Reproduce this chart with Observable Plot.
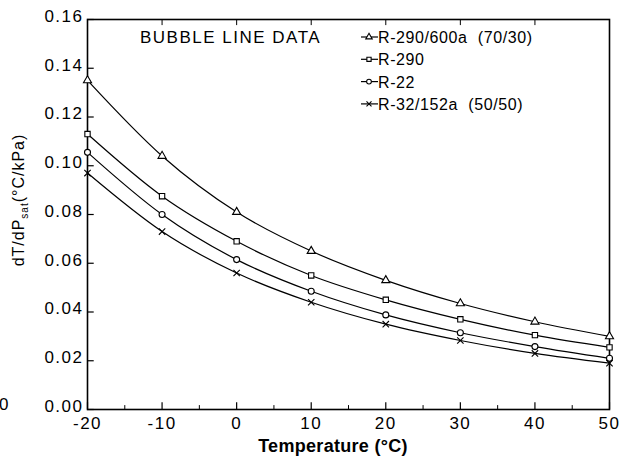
<!DOCTYPE html>
<html><head><meta charset="utf-8">
<script src="https://cdn.jsdelivr.net/npm/d3@7"></script>
<script src="https://cdn.jsdelivr.net/npm/@observablehq/plot@0.6"></script>
<style>
body{margin:0;background:#fff}
#chart{position:relative;width:629px;height:458px;overflow:hidden}
</style>
</head><body><div id="chart"></div>
<script>
// ---- data ----
const temps = [-20, -10, 0, 10, 20, 30, 40, 50];
const seriesNames = ["R-290/600a  (70/30)", "R-290", "R-22", "R-32/152a  (50/50)"];
const seriesSymbols = ["triangle", "square", "circle", "times"];
const r290_600a = [0.135, 0.104, 0.081, 0.065, 0.053, 0.0435, 0.036, 0.030];
const r290      = [0.113, 0.0875, 0.069, 0.055, 0.045, 0.037, 0.0305, 0.0255];
const r22       = [0.1055, 0.080, 0.0615, 0.0485, 0.0388, 0.0315, 0.0258, 0.021];
const r32_152a  = [0.097, 0.073, 0.056, 0.044, 0.035, 0.0283, 0.023, 0.019];
const xTicks = [-20, -10, 0, 10, 20, 30, 40, 50];
const xMinorTicks = [-15, -5, 5, 15, 25, 35, 45];
const yTicks = [0, 0.02, 0.04, 0.06, 0.08, 0.10, 0.12, 0.14, 0.16];
const titleText = "BUBBLE LINE DATA";
const xLabel = "Temperature (°C)";

const seriesValues = [r290_600a, r290, r22, r32_152a];
const data = [];
seriesNames.forEach((s, i) => temps.forEach((t, j) => data.push({series: s, t, v: seriesValues[i][j]})));

const font = "'Liberation Sans', Arial, Helvetica, sans-serif";

const plot = Plot.plot({
  width: 629, height: 458,
  marginLeft: 87, marginRight: 20, marginTop: 19, marginBottom: 49,
  x: {domain: [-20, 50]},
  y: {domain: [0, 0.16]},
  symbol: {domain: seriesNames, range: seriesSymbols},
  style: {fontFamily: font, fontSize: "17px", color: "#000", background: "#fff", letterSpacing: "1.5px"},
  marks: [
    Plot.axisX(xTicks, {tickSize: 0, tickPadding: 7, label: null, tickFormat: d => String(d)}),
    Plot.axisY(yTicks, {tickSize: 0, tickPadding: 4, dy: -3, label: null, tickFormat: d3.format(".2f")}),
    Plot.ruleX(xTicks, {y1: 0, y2: 0.0028, stroke: "black", strokeWidth: 1.2}),
    Plot.ruleX(xMinorTicks, {y1: 0, y2: 0.0016, stroke: "black", strokeWidth: 1}),
    Plot.ruleX(xTicks, {y1: 0.16, y2: 0.1575, stroke: "black", strokeWidth: 1}),
    Plot.ruleY(yTicks, {x1: -20, x2: -19.1, stroke: "black", strokeWidth: 1.2}),
    Plot.frame({stroke: "black", strokeWidth: 1.6}),
    Plot.line(data, {x: "t", y: "v", z: "series", curve: "monotone-x", stroke: "black", strokeWidth: 1.2}),
    Plot.dot(data, {x: "t", y: "v", symbol: "series", r: 3, stroke: "black", fill: "white", strokeWidth: 1.1})
  ]
});

const svg = d3.select(plot);
// y label with subscript
const yl = svg.append("text")
  .attr("transform", "translate(24,200) rotate(-90)")
  .attr("text-anchor", "middle")
  .attr("font-family", font).attr("font-size", 16).attr("letter-spacing", "1px").attr("fill", "black");
yl.append("tspan").text("dT/dP");
yl.append("tspan").attr("font-size", 10).attr("dy", 4).text("sat");
yl.append("tspan").attr("dy", -4).text("(°C/kPa)");

// x label
svg.append("text").attr("x", 333).attr("y", 452).attr("text-anchor", "middle")
  .attr("font-family", font).attr("font-size", 18).attr("font-weight", "bold").attr("letter-spacing", "0.3px")
  .attr("fill", "black").text(xLabel);

// annotation title
svg.append("text").attr("x", 140).attr("y", 43).attr("text-anchor", "start")
  .attr("font-family", font).attr("font-size", 17).attr("letter-spacing", "1.5px").attr("fill", "black").text(titleText);

// legend
const symMap = {triangle: d3.symbolTriangle, square: d3.symbolSquare, circle: d3.symbolCircle, times: d3.symbolTimes};
seriesNames.forEach((name, i) => {
  const base = 43 + i * 22.3;
  const y = base - 6;
  const g = svg.append("g");
  g.append("line").attr("x1", 361).attr("x2", 378).attr("y1", y).attr("y2", y).attr("stroke", "black").attr("stroke-width", 1.2);
  g.append("path").attr("d", d3.symbol().type(symMap[seriesSymbols[i]]).size(18)())
    .attr("transform", `translate(369,${y})`).attr("fill", "white").attr("stroke", "black").attr("stroke-width", 1.1);
  g.append("text").attr("x", 378).attr("y", base).attr("text-anchor", "start").attr("font-family", font).attr("font-size", 16)
    .attr("letter-spacing", "0.6px").attr("fill", "black").attr("xml:space", "preserve").style("white-space", "pre").text(name);
});

// fragment at the left edge of the scan
svg.append("text").attr("x", -1).attr("y", 410).attr("text-anchor", "start").attr("font-family", font).attr("font-size", 17).attr("fill", "black").text("0");

document.getElementById("chart").appendChild(plot);
</script>
</body></html>
